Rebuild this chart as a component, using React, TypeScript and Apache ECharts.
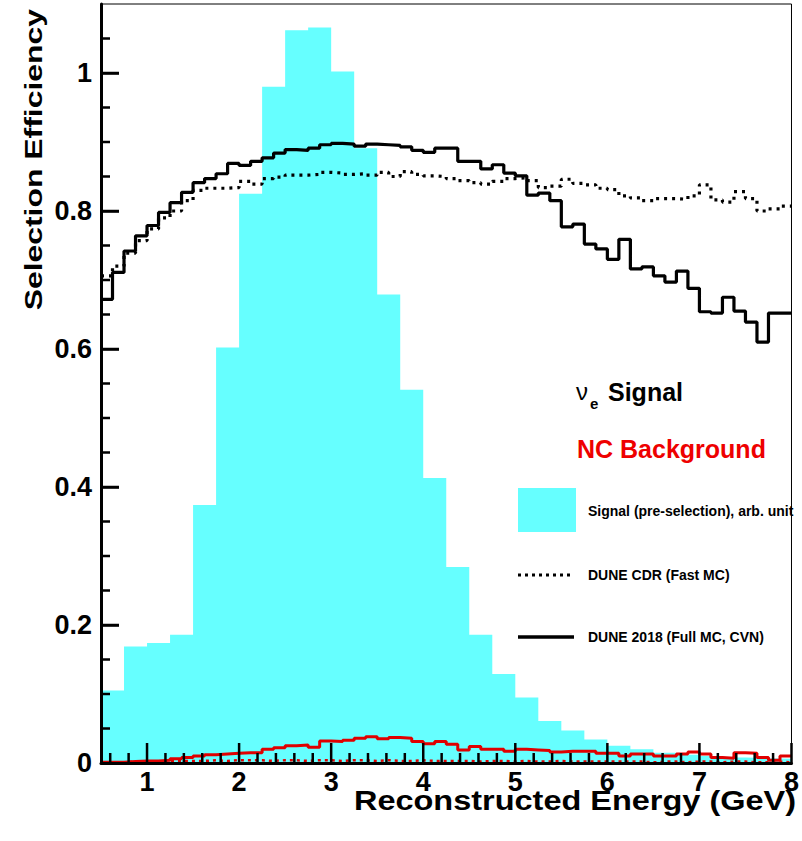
import React, { useEffect, useRef } from "react";
import * as echarts from "echarts";

// ---- data ----
const X_MIN = 0.5;
const X_MAX = 8;

// cyan histogram: signal (pre-selection), arb. unit — 30 bins of 0.25 GeV
const signalPre = [
  0.105, 0.169, 0.174, 0.186, 0.374, 0.602, 0.825, 0.98, 1.062, 1.066,
  1.002, 0.891, 0.679, 0.541, 0.413, 0.284, 0.186, 0.129, 0.095, 0.061,
  0.047, 0.034, 0.025, 0.02, 0.015, 0.012, 0.01, 0.008, 0.007, 0.006,
];

// DUNE 2018 (Full MC, CVN) — nu_e signal efficiency, 60 bins of 0.125 GeV
const dune2018Signal = [
  0.672, 0.711, 0.742, 0.764, 0.779, 0.798, 0.812, 0.827, 0.841, 0.847,
  0.854, 0.869, 0.866, 0.872, 0.877, 0.884, 0.889, 0.888, 0.891, 0.896,
  0.898, 0.897, 0.894, 0.897, 0.896, 0.895, 0.893, 0.888, 0.885, 0.891,
  0.891, 0.872, 0.872, 0.861, 0.867, 0.855, 0.851, 0.823, 0.826, 0.815,
  0.777, 0.781, 0.752, 0.745, 0.73, 0.759, 0.716, 0.719, 0.706, 0.697,
  0.713, 0.688, 0.654, 0.652, 0.675, 0.655, 0.639, 0.61, 0.652, 0.652,
];

// DUNE CDR (Fast MC) — nu_e signal efficiency
const cdrSignal = [
  0.706, 0.72, 0.739, 0.757, 0.774, 0.79, 0.8, 0.815, 0.83, 0.833,
  0.833, 0.834, 0.843, 0.839, 0.847, 0.849, 0.852, 0.852, 0.853, 0.856,
  0.855, 0.853, 0.854, 0.852, 0.856, 0.85, 0.857, 0.853, 0.851, 0.85,
  0.847, 0.844, 0.841, 0.839, 0.843, 0.847, 0.848, 0.844, 0.834, 0.836,
  0.846, 0.84, 0.838, 0.833, 0.831, 0.822, 0.819, 0.815, 0.818, 0.818,
  0.817, 0.822, 0.838, 0.816, 0.813, 0.828, 0.818, 0.8, 0.803, 0.807,
];

// DUNE 2018 NC background efficiency
const dune2018NC = [
  0.001, 0.001, 0.002, 0.003, 0.003, 0.004, 0.006, 0.008, 0.01, 0.012,
  0.013, 0.014, 0.015, 0.015, 0.02, 0.022, 0.025, 0.026, 0.023, 0.032,
  0.031, 0.033, 0.036, 0.038, 0.035, 0.037, 0.036, 0.031, 0.028, 0.031,
  0.027, 0.019, 0.024, 0.02, 0.02, 0.017, 0.02, 0.019, 0.018, 0.016,
  0.017, 0.017, 0.017, 0.014, 0.014, 0.01, 0.013, 0.013, 0.01, 0.01,
  0.013, 0.016, 0.013, 0.008, 0.007, 0.015, 0.014, 0.008, 0.004, 0.01,
];

// DUNE CDR NC background efficiency
const cdrNC = [
  0.001, 0.001, 0.002, 0.002, 0.002, 0.003, 0.003, 0.003, 0.003, 0.004,
  0.003, 0.004, 0.004, 0.004, 0.003, 0.004, 0.004, 0.003, 0.004, 0.004,
  0.003, 0.004, 0.004, 0.003, 0.004, 0.003, 0.003, 0.004, 0.003, 0.003,
  0.003, 0.003, 0.002, 0.003, 0.003, 0.002, 0.003, 0.002, 0.002, 0.003,
  0.002, 0.002, 0.002, 0.002, 0.002, 0.002, 0.002, 0.001, 0.002, 0.002,
  0.001, 0.002, 0.002, 0.001, 0.002, 0.002, 0.001, 0.001, 0.002, 0.001,
];

// axis ticks
const xTicks = [
  0.6, 0.8, 1, 1.2, 1.4, 1.6, 1.8, 2, 2.2, 2.4, 2.6, 2.8, 3, 3.2, 3.4, 3.6,
  3.8, 4, 4.2, 4.4, 4.6, 4.8, 5, 5.2, 5.4, 5.6, 5.8, 6, 6.2, 6.4, 6.6, 6.8,
  7, 7.2, 7.4, 7.6, 7.8, 8,
];
const xMajor = [1, 2, 3, 4, 5, 6, 7, 8];
const yTicks = [
  0.05, 0.1, 0.15, 0.2, 0.25, 0.3, 0.35, 0.4, 0.45, 0.5, 0.55, 0.6, 0.65,
  0.7, 0.75, 0.8, 0.85, 0.9, 0.95, 1, 1.05,
];
const yMajor = [0.2, 0.4, 0.6, 0.8, 1];
const Y_MAX = 1.1;

const FONT = '"Liberation Sans", Arial, Helvetica, sans-serif';

function stepData(values: number[]): number[][] {
  const w = (X_MAX - X_MIN) / values.length;
  const pts = values.map((v, i) => [X_MIN + i * w, v]);
  pts.push([X_MAX, values[values.length - 1]]);
  return pts;
}

function txt(text: string, x: number, y: number, font: string, fill = "#000", extra: any = {}) {
  const { align, ...rest } = extra;
  return {
    type: "text",
    x,
    y,
    z: 100,
    silent: true,
    ...rest,
    style: { text, font, fill, align: align || "left", verticalAlign: "middle" },
  };
}

export default function App() {
  const ref = useRef<HTMLDivElement>(null);

  useEffect(() => {
    if (!ref.current) return;
    const chart = echarts.init(ref.current, null, { renderer: "svg" });

    const option: any = {
      animation: false,
      grid: {
        left: 101,
        right: 9,
        top: 4,
        bottom: 78,
        show: true,
        borderColor: "#000",
        borderWidth: 1,
        backgroundColor: "transparent",
      },
      xAxis: {
        type: "value",
        min: X_MIN,
        max: X_MAX,
        splitNumber: 7,
        z: 10,
        axisLine: { show: true, lineStyle: { color: "#000", width: 3 } },
        axisTick: { show: false },
        splitLine: { show: false },
        axisLabel: {
          show: true,
          margin: 5,
          color: "#000",
          fontSize: 27,
          fontWeight: "bold",
          fontFamily: FONT,
          showMinLabel: false,
          formatter: (v: number) => (Number.isInteger(v) ? String(v) : ""),
        },
      },
      yAxis: {
        type: "value",
        min: 0,
        max: Y_MAX,
        interval: 0.2,
        z: 10,
        axisLine: { show: true, lineStyle: { color: "#000", width: 3 } },
        axisTick: {
          show: true,
          inside: true,
          length: 18,
          lineStyle: { color: "#000", width: 2.5 },
        },
        splitLine: { show: false },
        axisLabel: {
          show: true,
          margin: 9,
          color: "#000",
          fontSize: 27,
          fontWeight: "bold",
          fontFamily: FONT,
          showMaxLabel: false,
        },
      },
      series: [
        {
          name: "Signal (pre-selection), arb. unit",
          type: "line",
          step: "end",
          data: stepData(signalPre),
          showSymbol: false,
          lineStyle: { width: 0, color: "#66ffff" },
          areaStyle: { color: "#66ffff", opacity: 1 },
          z: 1,
          silent: true,
        },
        {
          name: "DUNE 2018 (Full MC, CVN)",
          type: "line",
          step: "end",
          data: stepData(dune2018Signal),
          showSymbol: false,
          lineStyle: { width: 3.2, color: "#000" },
          z: 4,
          silent: true,
        },
        {
          name: "DUNE CDR (Fast MC)",
          type: "line",
          step: "end",
          data: stepData(cdrSignal),
          showSymbol: false,
          lineStyle: { width: 3.2, color: "#000", type: [3, 5] },
          z: 4,
          silent: true,
        },
        {
          name: "DUNE 2018 NC",
          type: "line",
          step: "end",
          data: stepData(dune2018NC),
          showSymbol: false,
          lineStyle: { width: 3, color: "#e00000" },
          z: 3,
          silent: true,
        },
        {
          name: "CDR NC",
          type: "line",
          step: "end",
          data: stepData(cdrNC),
          showSymbol: false,
          lineStyle: { width: 2.5, color: "#e00000", type: [3, 4] },
          z: 3,
          silent: true,
        },
        {
          name: "xticks",
          type: "custom",
          silent: true,
          z: 12,
          clip: false,
          data: xTicks.map((t) => [t, 0, xMajor.includes(t) ? 1 : 0]),
          renderItem: (_p: any, api: any) => {
            const p = api.coord([api.value(0), 0]);
            const len = api.value(2) ? 20 : 10;
            return {
              type: "line",
              shape: { x1: p[0], y1: p[1], x2: p[0], y2: p[1] - len },
              style: { stroke: "#000", lineWidth: 2.5 },
            };
          },
        },
        {
          name: "yticks",
          type: "custom",
          silent: true,
          z: 12,
          clip: false,
          data: yTicks.map((t) => [X_MIN, t, yMajor.includes(t) ? 1 : 0]),
          renderItem: (_p: any, api: any) => {
            const p = api.coord([X_MIN, api.value(1)]);
            const len = api.value(2) ? 18 : 9;
            return {
              type: "line",
              shape: { x1: p[0], y1: p[1], x2: p[0] + len, y2: p[1] },
              style: { stroke: "#000", lineWidth: 2.5 },
            };
          },
        },
      ],
      graphic: [
        txt("Selection Efficiency", 34, 9, `bold 24px ${FONT}`, "#000", {
          rotation: Math.PI / 2,
          scaleX: 1.33,
          align: "right",
        }),
        txt("Reconstructed Energy (GeV)", 796, 800, `bold 28px ${FONT}`, "#000", {
          scaleX: 1.16,
          align: "right",
        }),
        txt("ν", 576, 391, `normal 24px ${FONT}`),
        txt("e", 590, 403, `bold 15px ${FONT}`),
        txt("Signal", 608, 392, `bold 25px ${FONT}`),
        txt("NC Background", 577, 449, `bold 25px ${FONT}`, "#ee0000"),
        {
          type: "rect",
          z: 100,
          silent: true,
          shape: { x: 518, y: 488, width: 58, height: 44 },
          style: { fill: "#66ffff" },
        },
        txt("Signal (pre-selection), arb. unit", 588, 511, `bold 14px ${FONT}`),
        {
          type: "line",
          z: 100,
          silent: true,
          shape: { x1: 518, y1: 575, x2: 574, y2: 575 },
          style: { stroke: "#000", lineWidth: 3, lineDash: [3, 4] },
        },
        txt("DUNE CDR (Fast MC)", 588, 575, `bold 14px ${FONT}`),
        {
          type: "line",
          z: 100,
          silent: true,
          shape: { x1: 518, y1: 637, x2: 574, y2: 637 },
          style: { stroke: "#000", lineWidth: 3.5 },
        },
        txt("DUNE 2018 (Full MC, CVN)", 588, 637, `bold 14px ${FONT}`),
      ],
    };

    chart.setOption(option);
    return () => chart.dispose();
  }, []);

  return (
    <div
      ref={ref}
      style={{
        position: "fixed",
        left: 0,
        top: 0,
        width: 802,
        height: 841,
        background: "#fff",
      }}
    />
  );
}
